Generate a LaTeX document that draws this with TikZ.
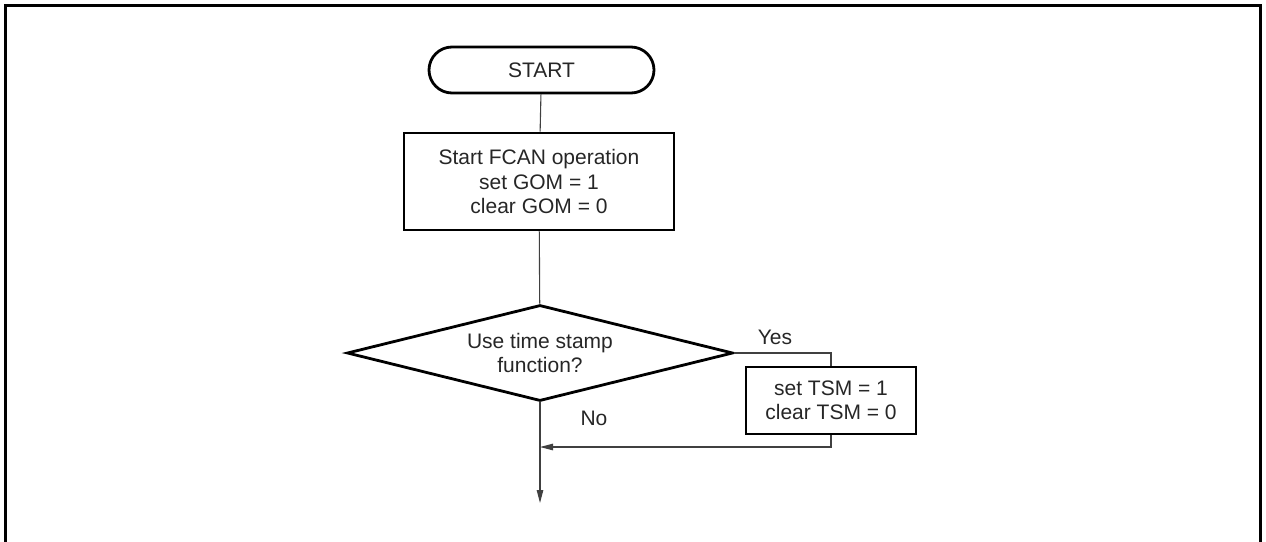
\documentclass[tikz,border=0pt]{standalone}
\usepackage{fontspec}
\setmainfont{Liberation Sans}
\usetikzlibrary{shapes.geometric,arrows.meta}
\begin{document}
\begin{tikzpicture}[x=1pt,y=-1pt,
  every node/.style={font=\fontsize{21}{24.5}\selectfont, text=black!85},
  termbox/.style={draw, line width=2.8pt, rounded corners=23pt, minimum width=225pt, minimum height=46pt, inner sep=0pt},
  procbox/.style={draw, line width=2.8pt, inner sep=0pt, align=center},
  decbox/.style={draw, diamond, shape aspect=4, line width=2.8pt, inner sep=0pt, align=center, minimum width=386pt, minimum height=96pt},
  conn/.style={line width=1.1pt, draw=black!75},
  tip/.style={-{Triangle[length=13pt,width=6.5pt]}},
  lbl/.style={inner sep=0pt}
]
\useasboundingbox (0,0) rectangle (1266,541);
\draw[line width=3pt] (5,545) -- (5,5) -- (1260.5,5) -- (1260.5,545);

\node[termbox] (start) at (541.5,70) {START};
\node[procbox, minimum width=270pt, minimum height=97pt] (op) at (539,181.5) {Start FCAN operation\\set GOM = 1\\clear GOM = 0};
\node[decbox] (dec) at (540,353) {Use time stamp\\function?};
\node[procbox, minimum width=170pt, minimum height=67pt] (tsm) at (831,400.5) {set TSM = 1\\clear TSM = 0};

\coordinate (join) at (540,447);
\coordinate (out) at (540,503);

\draw[conn] (start) -- (op);
\draw[conn] (op) -- (dec);
\draw[conn, tip] (dec.south) -- (out);
\draw[conn] (dec.east) -| (tsm.north);
\draw[conn, tip] (tsm.south) |- (join);

\node[lbl] (yes) at (775,337) {Yes};
\node[lbl] (no) at (594,418) {No};
\end{tikzpicture}
\end{document}
